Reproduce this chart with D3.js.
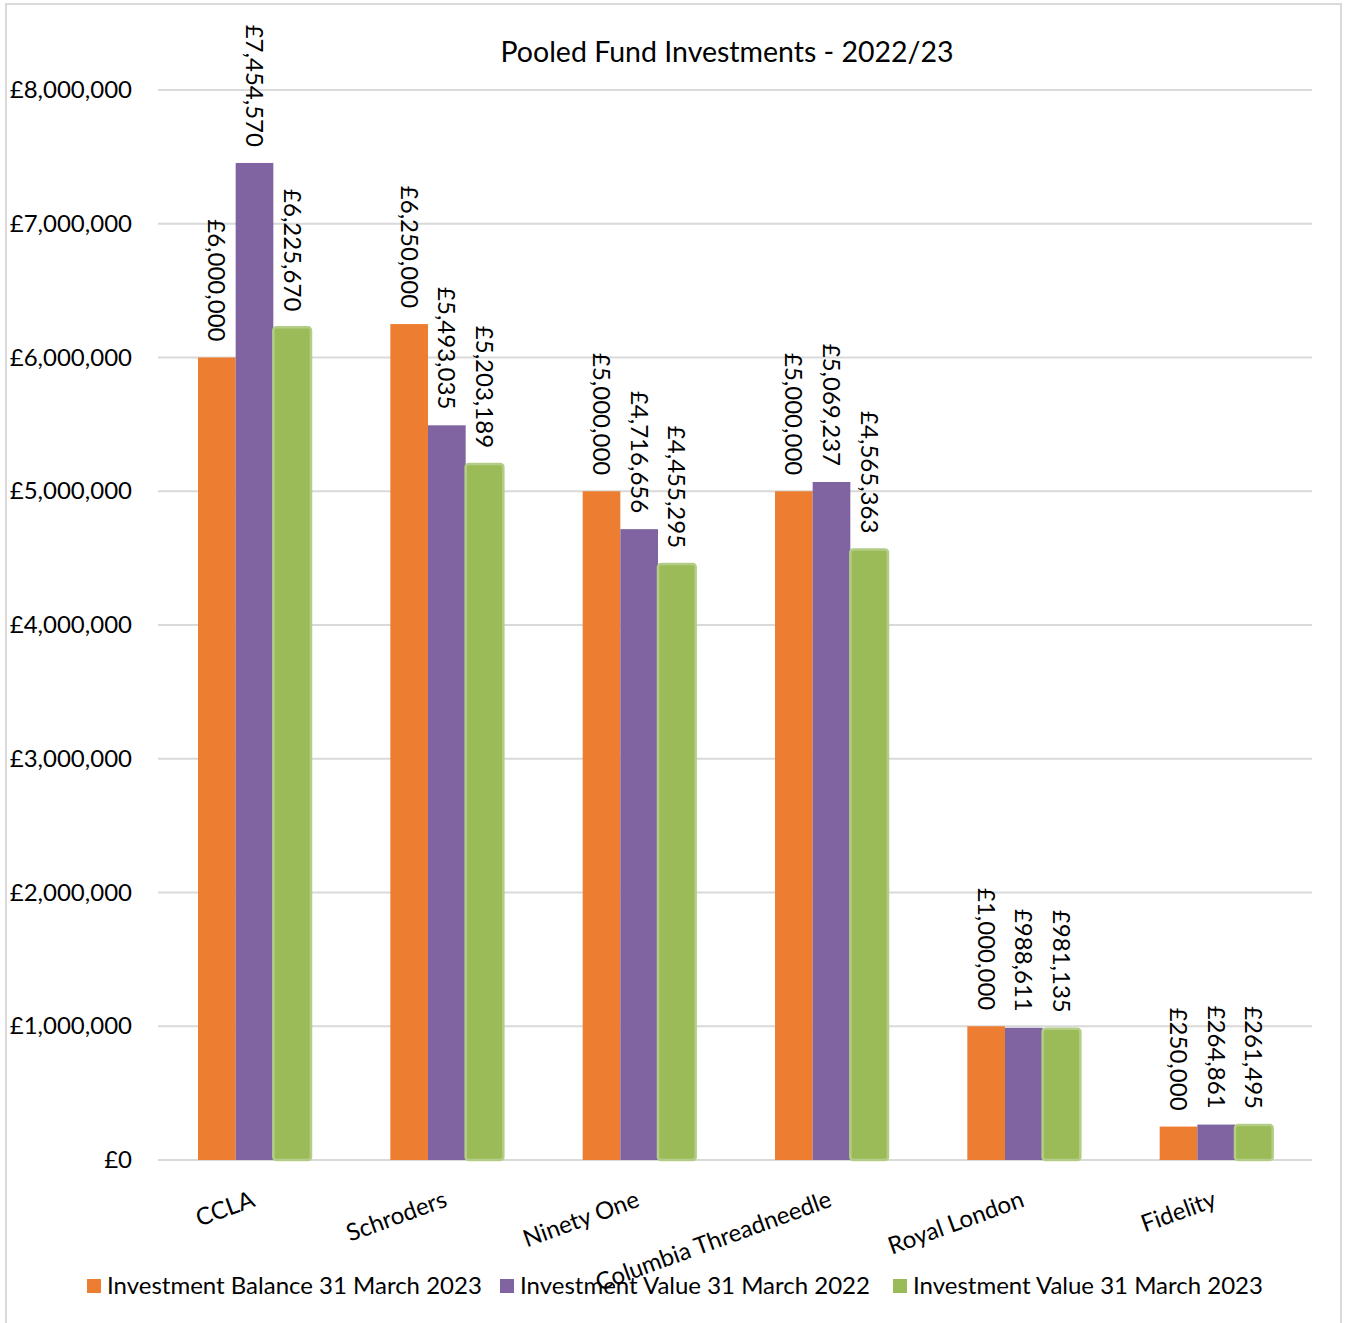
<!DOCTYPE html>
<html>
<head>
<meta charset="utf-8">
<script src="https://cdn.jsdelivr.net/npm/d3@7"></script>
<style>
  html, body { margin: 0; padding: 0; background: #fff; }
  text { font-family: Lato, "Open Sans", sans-serif; fill: #000; }
</style>
</head>
<body>
<svg id="chart" width="1346" height="1323"></svg>
<script>
const categories = ["CCLA", "Schroders", "Ninety One", "Columbia Threadneedle", "Royal London", "Fidelity"];
const seriesNames = ["Investment Balance 31 March 2023", "Investment Value 31 March 2022", "Investment Value 31 March 2023"];
const balance2023 = [6000000, 6250000, 5000000, 5000000, 1000000, 250000];
const value2022 = [7454570, 5493035, 4716656, 5069237, 988611, 264861];
const value2023 = [6225670, 5203189, 4455295, 4565363, 981135, 261495];
const yTicks = [0, 1000000, 2000000, 3000000, 4000000, 5000000, 6000000, 7000000, 8000000];
const chartTitle = "Pooled Fund Investments - 2022/23";

const seriesValues = [balance2023, value2022, value2023];
const colors = ["#ED7D31", "#8064A2", "#9BBB59"];

const svg = d3.select("#chart");
const pLeft = 158, pRight = 1312, pTop = 90, pBottom = 1160;
const fs = 24;

// outer border
svg.append("rect").attr("x", 6).attr("y", 4).attr("width", 1335).attr("height", 1330)
  .attr("fill", "none").attr("stroke", "#d9d9d9").attr("stroke-width", 2);

const y = d3.scaleLinear().domain([0, 8000000]).range([pBottom, pTop]);
const x0 = d3.scaleBand().domain(categories).range([pLeft, pRight]).padding(0);
const x1 = d3.scaleBand().domain(seriesNames).range([40, 153]).padding(0);

// gridlines
svg.append("g").selectAll("line").data(yTicks).join("line")
  .attr("x1", pLeft).attr("x2", pRight)
  .attr("y1", d => y(d)).attr("y2", d => y(d))
  .attr("stroke", "#d9d9d9").attr("stroke-width", 2);

// y axis labels
const fmt = v => "£" + d3.format(",")(v);
const yAxis = d3.axisLeft(y).tickValues(yTicks).tickFormat(fmt).tickSize(0).tickPadding(0);
const yg = svg.append("g").attr("transform", `translate(132,0)`).call(yAxis);
yg.select(".domain").remove();
yg.selectAll("text").attr("font-family", "Lato, sans-serif").attr("font-size", fs).attr("fill", "#000");

// title
svg.append("text").attr("x", 727).attr("y", 62).attr("text-anchor", "middle")
  .attr("font-size", 28.5).text(chartTitle);

// bars
const rows = categories.map((c, i) => ({ cat: c, vals: seriesNames.map((s, j) => ({ s, j, v: seriesValues[j][i] })) }));
const groups = svg.append("g").selectAll("g").data(rows).join("g")
  .attr("transform", d => `translate(${x0(d.cat)},0)`);

groups.selectAll("rect").data(d => d.vals).join("rect")
  .attr("x", d => x1(d.s))
  .attr("y", d => y(d.v))
  .attr("width", x1.bandwidth())
  .attr("height", d => pBottom - y(d.v))
  .attr("fill", d => colors[d.j])
  .attr("stroke", d => d.j === 2 ? "#b4cd86" : "none")
  .attr("stroke-width", d => d.j === 2 ? 2.5 : 0)
  .attr("rx", d => d.j === 2 ? 3 : 0);

// data labels
groups.selectAll("text.lbl").data(d => d.vals).join("text")
  .attr("class", "lbl")
  .attr("transform", d => `translate(${x1(d.s) + x1.bandwidth() / 2},${y(d.v) - 16}) rotate(90)`)
  .attr("text-anchor", "end")
  .attr("dy", "0.35em")
  .attr("font-size", fs)
  .text(d => fmt(d.v));

// category labels
svg.append("g").selectAll("text").data(categories).join("text")
  .attr("transform", d => `translate(${x0(d) + x0.bandwidth() / 2 + 2},1206) rotate(-20)`)
  .attr("text-anchor", "end")
  .attr("font-size", fs)
  .text(d => d);

// legend
const legendX = [87, 500, 893];
const lg = svg.append("g").selectAll("g").data(seriesNames).join("g")
  .attr("transform", (d, i) => `translate(${legendX[i]},1279)`);
lg.append("rect").attr("width", 14).attr("height", 14).attr("fill", (d, i) => colors[i]);
lg.append("text").attr("x", 20).attr("y", 7).attr("dy", "0.35em").attr("font-size", fs).text(d => d);
</script>
</body>
</html>
